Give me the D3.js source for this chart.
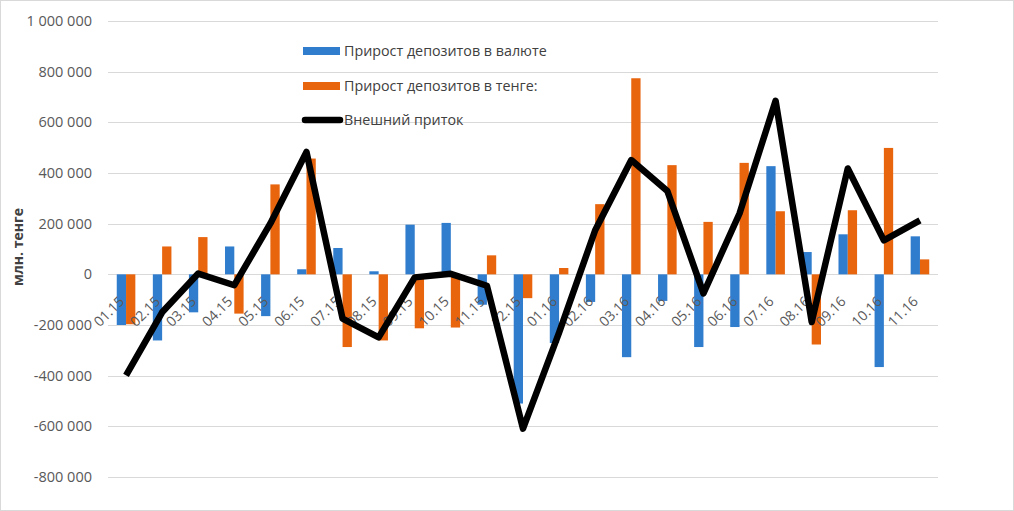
<!DOCTYPE html>
<html><head><meta charset="utf-8">
<script src="https://cdn.jsdelivr.net/npm/d3@7"></script>
<style>body{margin:0;background:#fff}svg{display:block}</style>
</head><body>
<svg id="c" width="1014" height="511"></svg>
<script>
const categories = ["01.15","02.15","03.15","04.15","05.15","06.15","07.15","08.15","09.15","10.15","11.15","12.15",
  "01.16","02.16","03.16","04.16","05.16","06.16","07.16","08.16","09.16","10.16","11.16"];
const currencyDeposits = [-200000,-261000,-150000,110000,-165000,20000,104000,12000,196000,203000,-120000,-510000,
  -271000,-109000,-327000,-105000,-287000,-208000,427000,88000,158000,-366000,150000];
const tengeDeposits = [-197000,110000,147000,-155000,355000,457000,-287000,-261000,-213000,-210000,75000,-94000,
  25000,277000,774000,431000,207000,440000,249000,-277000,253000,499000,59000];
const externalInflow = [-399000,-150000,3000,-43000,201000,483000,-175000,-249000,-12000,2000,-45000,-609000,
  -230000,174000,451000,329000,-75000,240000,685000,-188000,418000,134000,213000];
const yTicks = [-800000,-600000,-400000,-200000,0,200000,400000,600000,800000,1000000];
const seriesNames = ["Прирост депозитов в валюте","Прирост депозитов в тенге:","Внешний приток"];
const colors = ["#307dce","#e8640d","#000000"];

const svg = d3.select("#c");
const font = "'Open Sans', 'Liberation Sans', sans-serif";
const pLeft = 108, pRight = 938, pTop = 21, pBottom = 477;

svg.append("rect").attr("x",0.5).attr("y",0.5).attr("width",1013).attr("height",510)
  .attr("fill","#fff").attr("stroke","#d9d9d9");

const y = d3.scaleLinear().domain([-800000,1000000]).range([pBottom, pTop]);
const x0 = d3.scaleBand().domain(categories).range([pLeft,pRight]).paddingInner(0.485).paddingOuter(0.2425);
const x1 = d3.scaleBand().domain([0,1]).range([0,x0.bandwidth()]);

const fmt = v => d3.format(",")(v).replace(/,/g," ").replace("\u2212","-");

// gridlines
svg.append("g").selectAll("line").data(yTicks).join("line")
  .attr("x1",pLeft).attr("x2",pRight)
  .attr("y1",d=>Math.round(y(d))+0.5).attr("y2",d=>Math.round(y(d))+0.5)
  .attr("stroke","#d9d9d9").attr("stroke-width",1);

// y axis labels
const yAxis = d3.axisLeft(y).tickValues(yTicks).tickFormat(fmt).tickSize(0).tickPadding(0);
const gy = svg.append("g").attr("transform",`translate(92,0)`).call(yAxis);
gy.select(".domain").remove();
gy.selectAll("text").attr("font-family",font).attr("font-size",14.5).attr("fill","#595959");

// y title
svg.append("text").attr("transform","translate(23,247) rotate(-90)")
  .attr("text-anchor","middle").attr("font-family",font).attr("font-size",14).attr("font-weight","bold")
  .attr("fill","#404040").text("млн. тенге");

// bars
const barData = categories.map((c,i)=>[{c,k:0,v:currencyDeposits[i]},{c,k:1,v:tengeDeposits[i]}]).flat();
svg.append("g").selectAll("rect").data(barData).join("rect")
  .attr("x",d=>x0(d.c)+x1(d.k)).attr("width",x1.bandwidth())
  .attr("y",d=>y(Math.max(0,d.v))).attr("height",d=>Math.abs(y(d.v)-y(0)))
  .attr("fill",d=>colors[d.k]);

// x labels
const gx = svg.append("g").attr("transform",`translate(0,${y(0)})`)
  .call(d3.axisBottom(x0).tickSize(0).tickPadding(0));
gx.select(".domain").remove();
gx.selectAll("text")
  .attr("font-family",font).attr("font-size",14).attr("fill","#595959")
  .attr("text-anchor","end").attr("dy",0).attr("y",0)
  .attr("transform","translate(-1,28) rotate(-45)");

// line
const line = d3.line().x((d,i)=>x0(categories[i])+x0.bandwidth()/2).y(d=>y(d));
svg.append("path").datum(externalInflow).attr("d",line)
  .attr("fill","none").attr("stroke","#000").attr("stroke-width",6.5).attr("stroke-linejoin","round");

// legend
const lg = svg.append("g");
const lx = 303;
lg.append("rect").attr("x",lx).attr("y",47).attr("width",37).attr("height",8).attr("fill",colors[0]);
lg.append("rect").attr("x",lx).attr("y",82).attr("width",37).attr("height",8).attr("fill",colors[1]);
lg.append("line").attr("x1",lx+2).attr("x2",lx+37).attr("y1",120).attr("y2",120)
  .attr("stroke","#000").attr("stroke-width",6.5).attr("stroke-linecap","round");
[[seriesNames[0],51],[seriesNames[1],86],[seriesNames[2],120]].forEach(([t,yy])=>{
  lg.append("text").attr("x",344).attr("y",yy).attr("dy","0.35em")
    .attr("font-family",font).attr("font-size",14.3).attr("fill","#404040").text(t);
});
</script>
</body></html>
